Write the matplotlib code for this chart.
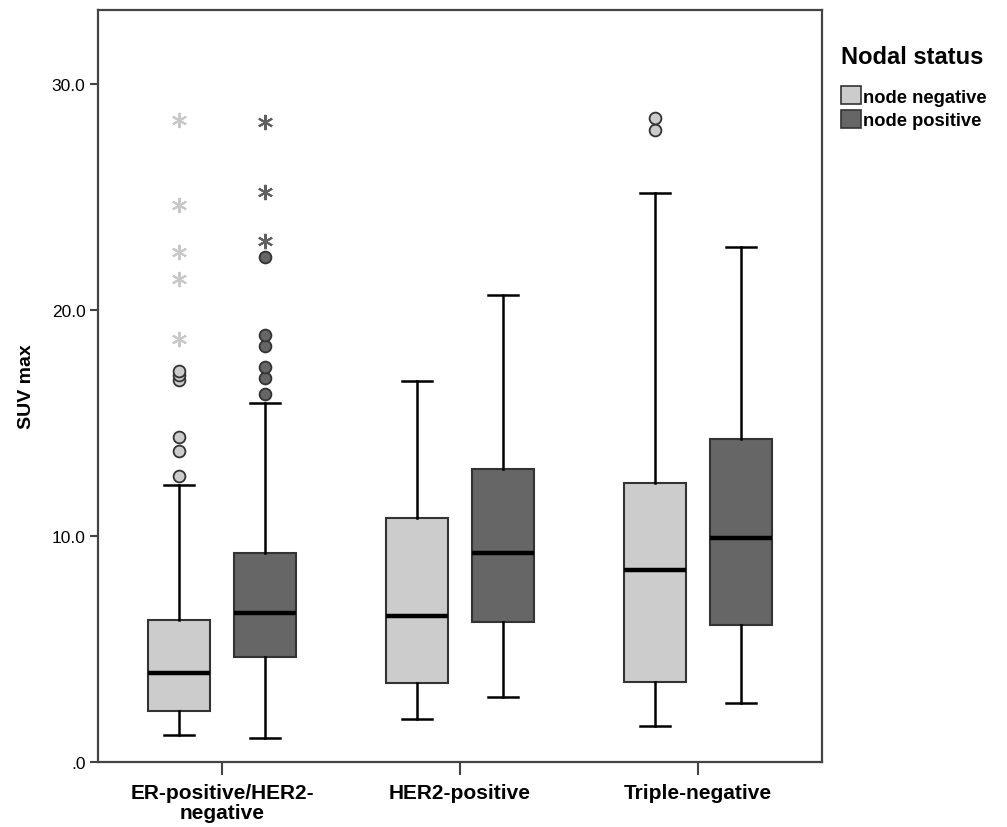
import numpy as np
import matplotlib.pyplot as plt
from matplotlib.patches import Patch

# Summary values (SUV max)
groups = ["ER-positive/HER2-\nnegative", "HER2-positive", "Triple-negative"]
status = ["node negative", "node positive"]

neg_low = [1.19, 1.90, 1.60]
neg_q1 = [2.26, 3.50, 3.55]
neg_med = [3.94, 6.46, 8.51]
neg_q3 = [6.28, 10.80, 12.36]
neg_high = [12.26, 16.86, 25.18]
neg_out = [[12.65, 13.75, 14.4, 16.9, 17.1, 17.3], [], [27.96, 28.5]]
neg_ext = [[18.7, 21.35, 22.55, 24.65, 28.4], [], []]

pos_low = [1.05, 2.88, 2.61]
pos_q1 = [4.65, 6.20, 6.07]
pos_med = [6.59, 9.25, 9.93]
pos_q3 = [9.25, 12.96, 14.27]
pos_high = [15.88, 20.66, 22.79]
pos_out = [[16.28, 16.99, 17.48, 18.4, 18.9, 22.35], [], []]
pos_ext = [[23.05, 25.2, 28.3], [], []]

light = "#cccccc"
dark = "#666666"

fig = plt.figure(figsize=(10.07, 8.28), dpi=100)
ax = fig.add_axes([0.0973, 0.0785, 0.719, 0.9082])

centers = np.arange(len(groups))
offset = 0.18
width = 0.26

def draw(lo, q1, med, q3, hi, outs, exts, pos, fill, star_col):
    stats = []
    for i in range(len(groups)):
        stats.append({"whislo": lo[i], "q1": q1[i], "med": med[i], "q3": q3[i],
                      "whishi": hi[i], "fliers": outs[i]})
    ax.bxp(stats, positions=pos, widths=width, patch_artist=True,
           showfliers=True, manage_ticks=False,
           boxprops=dict(facecolor=fill, edgecolor="#333333", linewidth=1.5),
           medianprops=dict(color="black", linewidth=3.2),
           whiskerprops=dict(color="black", linewidth=1.8),
           capprops=dict(color="black", linewidth=1.8),
           capwidths=0.126,
           flierprops=dict(marker="o", markerfacecolor=fill, markeredgecolor="#333333",
                           markersize=8.5, markeredgewidth=1.3))
    for i in range(len(groups)):
        if exts[i]:
            ax.plot([pos[i]] * len(exts[i]), exts[i], linestyle="none",
                    marker=(6, 2, 0), markersize=11, markeredgewidth=1.5,
                    color=star_col)

draw(neg_low, neg_q1, neg_med, neg_q3, neg_high, neg_out, neg_ext,
     centers - offset, light, "#c8c8c8")
draw(pos_low, pos_q1, pos_med, pos_q3, pos_high, pos_out, pos_ext,
     centers + offset, dark, "#606060")

ax.set_xlim(-0.521, 2.521)
ax.set_ylim(0, 33.27)
ax.set_yticks([0, 10, 20, 30])
ax.set_yticklabels([".0", "10.0", "20.0", "30.0"], fontsize=12.5, family="Liberation Sans")
ax.set_xticks(centers)
ax.set_xticklabels(groups, fontsize=15, fontweight="bold",
                   family=["Liberation Sans Narrow", "Liberation Sans"], linespacing=1.05)
ax.tick_params(axis="y", length=6, width=1.5, color="#444444", pad=3)
ax.tick_params(axis="x", length=9, width=1.5, color="#444444", pad=6)
for s in ax.spines.values():
    s.set_color("#444444")
    s.set_linewidth(1.6)
ax.set_ylabel("SUV max", fontsize=14, fontweight="bold", family="Liberation Sans", labelpad=12)

handles = [Patch(facecolor=light, edgecolor="#333333", linewidth=1.2),
           Patch(facecolor=dark, edgecolor="#333333", linewidth=1.2)]
leg = fig.legend(handles, status, loc="upper left", bbox_to_anchor=(0.826, 0.955),
                 frameon=False, title="Nodal status", alignment="left",
                 handlelength=1.1, handleheight=1.1, handletextpad=0.12,
                 labelspacing=0.27, borderpad=0,
                 prop=dict(family="Liberation Sans", weight="bold", size=13.2),
                 title_fontproperties=dict(family="Liberation Sans", weight="bold", size=17))
leg._legend_box.sep = 13

fig.savefig("out.png", dpi=100)
